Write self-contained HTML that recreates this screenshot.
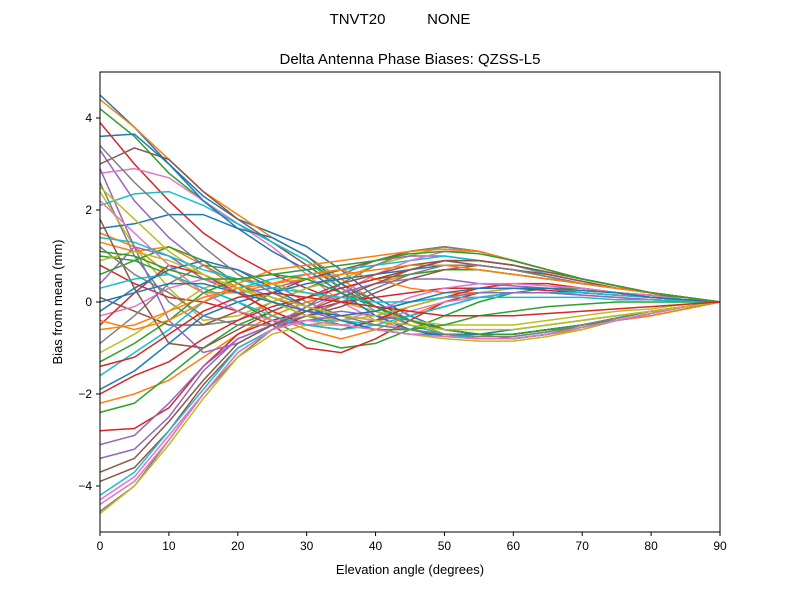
<!DOCTYPE html>
<html><head><meta charset="utf-8">
<style>
body{margin:0;background:#fff;}
svg text{font-family:"Liberation Sans","DejaVu Sans",sans-serif;fill:#000;}
</style></head>
<body>
<svg id="chart" width="800" height="600">
<rect width="800" height="600" fill="#fff"/>
<text x="400" y="24" font-size="15" text-anchor="middle" xml:space="preserve">TNVT20          NONE</text>
<text x="410" y="64" font-size="15" text-anchor="middle">Delta Antenna Phase Biases: QZSS-L5</text>
<g id="lines"></g>
<rect x="100" y="72" width="620" height="460" fill="none" stroke="#000" stroke-width="1"/>
<g id="axes"></g>
<text x="410" y="574" font-size="13" text-anchor="middle">Elevation angle (degrees)</text>
<text transform="translate(62,302) rotate(-90)" font-size="13" text-anchor="middle">Bias from mean (mm)</text>
</svg>
<script>
const elevations=[0,5,10,15,20,25,30,35,40,45,50,55,60,65,70,75,80,85,90];
const xTicks=[0,10,20,30,40,50,60,70,80,90];
const yTicks=[-4,-2,0,2,4];
const s01=[4.5,3.8,3.0,2.3,1.8,1.5,1.2,0.7,0.1,-0.3,-0.6,-0.7,-0.7,-0.6,-0.5,-0.4,-0.3,-0.15,0];
const s02=[4.4,3.8,3.1,2.4,1.9,1.4,1.0,0.5,0.0,-0.4,-0.7,-0.8,-0.8,-0.7,-0.6,-0.4,-0.3,-0.15,0];
const s03=[4.2,3.6,2.8,2.2,1.7,1.3,0.9,0.4,-0.1,-0.5,-0.7,-0.8,-0.8,-0.7,-0.5,-0.4,-0.25,-0.1,0];
const s04=[3.9,3.0,2.2,1.5,1.0,0.6,0.3,0.0,-0.2,-0.4,-0.6,-0.7,-0.7,-0.6,-0.5,-0.35,-0.2,-0.1,0];
const s05=[3.3,2.2,1.4,0.8,0.4,0.1,-0.2,-0.4,-0.5,-0.6,-0.7,-0.7,-0.7,-0.6,-0.5,-0.35,-0.2,-0.1,0];
const s06=[3.0,3.35,3.1,2.4,1.8,1.3,0.8,0.3,-0.1,-0.4,-0.6,-0.7,-0.7,-0.6,-0.5,-0.35,-0.2,-0.1,0];
const s07=[2.8,2.9,2.7,2.2,1.7,1.2,0.6,0.0,-0.4,-0.6,-0.7,-0.8,-0.8,-0.7,-0.55,-0.4,-0.25,-0.1,0];
const s08=[2.6,1.0,0.0,-0.5,-0.4,0.0,0.3,0.6,0.9,1.1,1.2,1.1,0.9,0.7,0.5,0.35,0.2,0.1,0];
const s09=[2.4,1.2,0.3,-0.4,-0.3,0.0,0.3,0.5,0.8,1.0,1.2,1.1,0.9,0.7,0.5,0.35,0.2,0.1,0];
const s10=[2.1,2.35,2.4,2.1,1.7,1.3,0.9,0.3,-0.2,-0.5,-0.7,-0.8,-0.8,-0.7,-0.55,-0.4,-0.25,-0.1,0];
const s11=[1.6,1.7,1.9,1.9,1.6,1.4,1.0,0.4,0.0,-0.4,-0.6,-0.7,-0.7,-0.6,-0.5,-0.35,-0.2,-0.1,0];
const s12=[1.3,1.1,1.2,0.8,0.3,-0.3,-0.6,-0.8,-0.6,-0.3,0.0,0.2,0.3,0.3,0.3,0.2,0.15,0.1,0];
const s13=[1.0,0.9,0.6,0.3,0.0,-0.4,-0.8,-1.0,-0.9,-0.6,-0.3,0.0,0.2,0.3,0.3,0.2,0.15,0.1,0];
const s14=[0.8,0.4,0.1,0.0,-0.2,-0.5,-1.0,-1.1,-0.8,-0.4,0.0,0.2,0.3,0.3,0.25,0.2,0.1,0.05,0];
const s15=[0.4,1.2,1.0,0.5,0.2,0.3,0.5,0.7,0.9,1.0,1.0,0.9,0.8,0.6,0.45,0.3,0.2,0.1,0];
const s16=[0.1,-0.2,-0.5,-0.5,-0.2,0.2,0.5,0.7,0.9,1.1,1.2,1.1,0.9,0.7,0.5,0.35,0.2,0.1,0];
const s17=[-0.3,-0.1,0.3,0.5,0.3,0.0,-0.3,-0.5,-0.4,-0.2,0.0,0.1,0.2,0.2,0.2,0.15,0.1,0.05,0];
const s18=[-0.9,-0.3,0.4,0.8,0.7,0.4,0.0,-0.3,-0.4,-0.3,-0.1,0.1,0.2,0.2,0.2,0.15,0.1,0.05,0];
const s19=[-1.1,-0.7,-0.2,0.3,0.5,0.4,0.2,0.0,-0.2,-0.4,-0.5,-0.5,-0.5,-0.4,-0.3,-0.2,-0.15,-0.05,0];
const s20=[-1.6,-1.1,-0.6,0.0,0.3,0.5,0.6,0.7,0.8,0.9,1.0,0.9,0.8,0.6,0.45,0.3,0.2,0.1,0];
const s21=[-1.9,-1.5,-0.9,-0.3,0.0,0.2,0.4,0.5,0.6,0.7,0.8,0.8,0.7,0.55,0.4,0.3,0.2,0.1,0];
const s22=[-2.2,-2.0,-1.7,-1.2,-0.7,-0.3,0.0,0.2,0.4,0.6,0.7,0.7,0.6,0.5,0.4,0.3,0.2,0.1,0];
const s23=[-2.4,-2.2,-1.6,-1.0,-0.5,-0.2,0.1,0.3,0.5,0.6,0.7,0.7,0.6,0.5,0.4,0.3,0.2,0.1,0];
const s24=[-2.8,-2.75,-2.3,-1.4,-0.7,-0.4,-0.2,0.0,0.1,0.2,0.3,0.3,0.3,0.25,0.2,0.15,0.1,0.05,0];
const s25=[-3.4,-3.2,-2.5,-1.5,-0.8,-0.5,-0.3,-0.2,-0.3,-0.4,-0.6,-0.7,-0.8,-0.7,-0.55,-0.4,-0.25,-0.1,0];
const s26=[-3.9,-3.6,-2.8,-1.8,-1.0,-0.6,-0.3,-0.1,0.2,0.5,0.7,0.8,0.7,0.6,0.45,0.3,0.2,0.1,0];
const s27=[-4.3,-3.8,-2.9,-2.0,-1.1,-0.6,-0.2,0.2,0.6,0.9,1.1,1.1,0.9,0.7,0.5,0.35,0.2,0.1,0];
const s28=[-4.55,-4.0,-3.0,-2.0,-1.2,-0.6,-0.1,0.4,0.8,1.1,1.2,1.1,0.9,0.7,0.5,0.35,0.2,0.1,0];
const s29=[-4.6,-4.0,-3.1,-2.1,-1.2,-0.7,-0.5,-0.5,-0.6,-0.7,-0.8,-0.85,-0.85,-0.75,-0.6,-0.4,-0.25,-0.1,0];
const s30=[-4.2,-3.7,-2.8,-1.9,-1.0,-0.6,-0.4,-0.4,-0.5,-0.6,-0.7,-0.75,-0.75,-0.65,-0.5,-0.35,-0.2,-0.1,0];
const s31=[3.6,3.65,3.0,2.2,1.6,1.1,0.7,0.2,-0.3,-0.6,-0.75,-0.8,-0.8,-0.7,-0.55,-0.4,-0.25,-0.1,0];
const s32=[1.5,1.2,0.6,0.2,0.2,0.4,0.6,0.7,0.5,0.3,0.2,0.2,0.2,0.2,0.15,0.1,0.05,0.02,0];
const s33=[0.6,0.9,1.2,0.9,0.4,0.0,-0.3,-0.5,-0.6,-0.6,-0.5,-0.3,-0.2,-0.1,-0.05,0,0,0,0];
const s34=[-0.5,0.2,0.8,0.6,0.2,-0.2,-0.5,-0.6,-0.4,-0.1,0.1,0.3,0.4,0.4,0.3,0.2,0.15,0.05,0];
const s35=[2.9,1.2,-0.4,-1.1,-0.9,-0.5,-0.1,0.2,0.4,0.5,0.5,0.4,0.35,0.3,0.2,0.15,0.1,0.05,0];
const s36=[1.8,0.3,-0.9,-1.0,-0.6,-0.2,0.1,0.4,0.6,0.8,0.9,0.8,0.7,0.55,0.4,0.3,0.2,0.1,0];
const s37=[2.2,1.5,0.8,0.2,-0.2,-0.4,-0.5,-0.4,-0.2,0.1,0.3,0.4,0.4,0.35,0.3,0.2,0.15,0.05,0];
const s38=[1.2,0.6,0.2,-0.3,-0.5,-0.5,-0.3,0.0,0.3,0.6,0.8,0.8,0.7,0.55,0.4,0.3,0.2,0.1,0];
const s39=[0.9,1.1,0.9,0.6,0.3,0.0,-0.3,-0.4,-0.3,-0.1,0.1,0.2,0.3,0.3,0.25,0.2,0.1,0.05,0];
const s40=[0.3,0.5,0.6,0.3,0.0,-0.3,-0.5,-0.6,-0.5,-0.3,-0.1,0.1,0.2,0.2,0.2,0.15,0.1,0.05,0];
const s41=[-0.2,0.3,0.7,0.9,0.7,0.3,-0.1,-0.4,-0.6,-0.7,-0.7,-0.7,-0.6,-0.5,-0.4,-0.3,-0.2,-0.1,0];
const s42=[-0.6,-0.5,-0.2,0.1,0.3,0.4,0.5,0.6,0.7,0.8,0.8,0.7,0.6,0.5,0.4,0.3,0.2,0.1,0];
const s43=[-1.3,-0.9,-0.4,0.2,0.5,0.6,0.5,0.2,-0.1,-0.4,-0.6,-0.7,-0.7,-0.6,-0.5,-0.35,-0.2,-0.1,0];
const s44=[-2.0,-1.6,-1.3,-0.8,-0.4,-0.1,0.1,0.3,0.5,0.7,0.9,0.9,0.8,0.65,0.5,0.35,0.2,0.1,0];
const s45=[-3.1,-2.9,-2.2,-1.4,-0.8,-0.5,-0.4,-0.3,-0.2,0.0,0.1,0.2,0.2,0.2,0.15,0.1,0.05,0.02,0];
const s46=[-3.7,-3.4,-2.6,-1.7,-0.9,-0.5,-0.2,0.1,0.4,0.7,0.9,0.9,0.8,0.65,0.5,0.35,0.2,0.1,0];
const s47=[-4.4,-3.9,-3.0,-2.0,-1.1,-0.6,-0.4,-0.5,-0.6,-0.7,-0.75,-0.8,-0.8,-0.7,-0.55,-0.4,-0.25,-0.1,0];
const s48=[3.4,2.6,1.9,1.2,0.6,0.2,-0.1,-0.3,-0.5,-0.6,-0.7,-0.75,-0.75,-0.65,-0.5,-0.35,-0.2,-0.1,0];
const s49=[2.5,1.8,1.1,0.6,0.3,0.1,-0.1,-0.3,-0.4,-0.5,-0.6,-0.6,-0.6,-0.5,-0.4,-0.3,-0.2,-0.1,0];
const s50=[1.4,1.3,1.0,0.7,0.5,0.3,0.2,0.1,0.0,0.0,0.1,0.1,0.1,0.1,0.1,0.05,0.05,0.02,0];
const s51=[0.0,0.2,0.4,0.4,0.2,0.0,-0.2,-0.3,-0.2,0.0,0.2,0.3,0.3,0.3,0.25,0.2,0.1,0.05,0];
const s52=[-0.4,-0.6,-0.4,0.0,0.4,0.7,0.8,0.9,1.0,1.1,1.15,1.1,0.9,0.7,0.5,0.35,0.2,0.1,0];
const s53=[1.1,1.0,0.7,0.5,0.5,0.6,0.7,0.8,0.9,1.05,1.1,1.05,0.9,0.7,0.5,0.35,0.2,0.1,0];
const s54=[-1.4,-1.2,-0.7,-0.2,0.1,0.2,0.1,0.0,-0.1,-0.2,-0.3,-0.3,-0.3,-0.25,-0.2,-0.15,-0.1,-0.05,0];
const seriesList=[s01,s02,s03,s04,s05,s06,s07,s08,s09,s10,s11,s12,s13,s14,s15,s16,s17,s18,s19,s20,s21,s22,s23,s24,s25,s26,s27,s28,s29,s30,s31,s32,s33,s34,s35,s36,s37,s38,s39,s40,s41,s42,s43,s44,s45,s46,s47,s48,s49,s50,s51,s52,s53,s54];
const colors=["#1f77b4","#ff7f0e","#2ca02c","#d62728","#9467bd","#8c564b","#e377c2","#7f7f7f","#bcbd22","#17becf"];
const NS="http://www.w3.org/2000/svg";
const xMin=0,xMax=90,yMin=-5,yMax=5,L=100,R=720,T=72,B=532;
function xs(v){return L+(v-xMin)/(xMax-xMin)*(R-L);}
function ys(v){return B-(v-yMin)/(yMax-yMin)*(B-T);}
const g=document.getElementById('lines');
seriesList.forEach((s,i)=>{
  const p=document.createElementNS(NS,'polyline');
  p.setAttribute('points',s.map((v,j)=>xs(elevations[j]).toFixed(1)+','+ys(v).toFixed(1)).join(' '));
  p.setAttribute('fill','none');
  p.setAttribute('stroke',colors[i%10]);
  p.setAttribute('stroke-width','1.5');
  
  
  g.appendChild(p);
});
const ax=document.getElementById('axes');
xTicks.forEach(t=>{
  const l=document.createElementNS(NS,'line');
  l.setAttribute('x1',xs(t));l.setAttribute('x2',xs(t));l.setAttribute('y1',B);l.setAttribute('y2',B+4);
  l.setAttribute('stroke','#000');
  
  
  ax.appendChild(l);
  const tx=document.createElementNS(NS,'text');
  tx.setAttribute('x',xs(t));tx.setAttribute('y',B+18);tx.setAttribute('font-size','12');tx.setAttribute('text-anchor','middle');
  tx.textContent=t;
  
  
  ax.appendChild(tx);
});
yTicks.forEach(t=>{
  const l=document.createElementNS(NS,'line');
  l.setAttribute('x1',L-4);l.setAttribute('x2',L);l.setAttribute('y1',ys(t));l.setAttribute('y2',ys(t));
  l.setAttribute('stroke','#000');
  
  
  ax.appendChild(l);
  const tx=document.createElementNS(NS,'text');
  tx.setAttribute('x',L-8);tx.setAttribute('y',ys(t)+4);tx.setAttribute('font-size','12');tx.setAttribute('text-anchor','end');
  tx.textContent=t<0?'\u2212'+Math.abs(t):t;
  
  
  ax.appendChild(tx);
});
</script>
</body></html>
